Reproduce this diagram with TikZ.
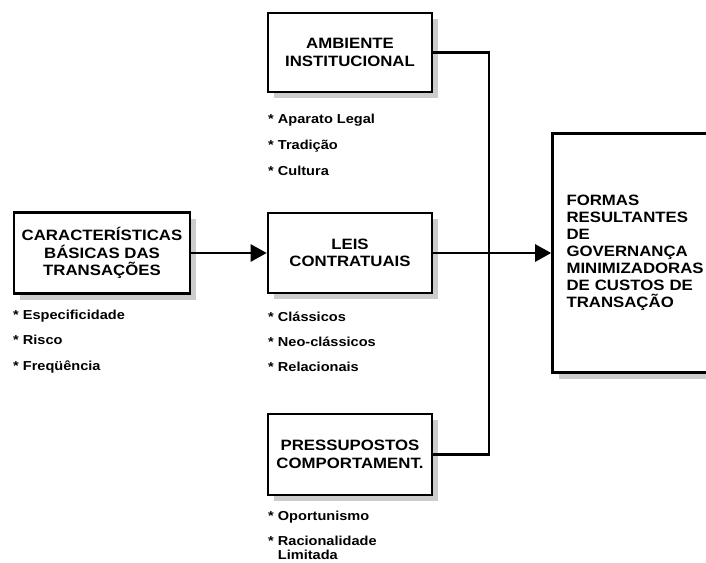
\documentclass[tikz,border=0pt]{standalone}
\usepackage{fontspec}
\newfontfamily\lblfont[FakeStretch=1.12]{Liberation Sans}
\usetikzlibrary{arrows.meta,positioning,shadows}

\begin{document}
\begin{tikzpicture}[x=1pt, y=-1pt,
      blockbox/.style={draw, line width=2.6pt, fill=white, align=center, inner sep=2pt,
        drop shadow={shadow xshift=6pt, shadow yshift=-6pt, fill=black!20, opacity=1},
        font=\lblfont\bfseries\fontsize{15}{17.5}\selectfont},
      itemtxt/.style={anchor=base west, inner sep=0pt, font=\lblfont\bfseries\fontsize{13}{16}\selectfont},
      link/.style={line width=2.6pt},
      arr/.style={link, -{Triangle[length=16pt, width=17pt]}}
    ]
      \useasboundingbox (0,0) rectangle (706,562);

      % Caracteristicas basicas
      \node[blockbox, minimum width=176pt, minimum height=81pt] (cbt) at (102,253)
        {CARACTERÍSTICAS\\BÁSICAS DAS\\TRANSAÇÕES};
      \node[itemtxt] (cbt-i1) at (13,319) {* Especificidade};
      \node[itemtxt] (cbt-i2) at (13,344) {* Risco};
      \node[itemtxt] (cbt-i3) at (13,370) {* Freqüência};

      % Ambiente institucional
      \node[blockbox, minimum width=164pt, minimum height=79pt] (amb) at (350,52.5)
        {AMBIENTE\\INSTITUCIONAL};
      \node[itemtxt] (amb-i1) at (268,123) {* Aparato Legal};
      \node[itemtxt] (amb-i2) at (268,149) {* Tradição};
      \node[itemtxt] (amb-i3) at (268,175) {* Cultura};

      % Leis contratuais
      \node[blockbox, minimum width=164pt, minimum height=80pt] (leis) at (350,253)
        {LEIS\\CONTRATUAIS};
      \node[itemtxt] (leis-i1) at (268,321) {* Clássicos};
      \node[itemtxt] (leis-i2) at (268,346) {* Neo-clássicos};
      \node[itemtxt] (leis-i3) at (268,371) {* Relacionais};

      % Pressupostos comportamentais
      \node[blockbox, minimum width=164pt, minimum height=81pt] (press) at (350,454.5)
        {PRESSUPOSTOS\\COMPORTAMENT.};
      \node[itemtxt] (press-i1) at (268,520) {* Oportunismo};
      \node[itemtxt] (press-i2) at (268,545) {* Racionalidade};
      \node[itemtxt] (press-i3) at (268,559.5) {\phantom{* }Limitada};

      % Formas resultantes
      \node[blockbox, minimum height=239pt, text width=132pt, align=left, inner xsep=14pt,
        font=\lblfont\bfseries\fontsize{15}{17}\selectfont] (formas) at (632.5,253)
        {FORMAS\\RESULTANTES\\DE\\GOVERNANÇA\\MINIMIZADORAS\\DE CUSTOS DE\\TRANSAÇÃO};

      % connectors
      \coordinate (bus) at (489,253);
      \draw[arr] (cbt.east) -- (leis.west);
      \draw[link] (amb.east) -| (bus) |- (press.east);
      \draw[arr] (leis.east) -- (formas.west);
    \end{tikzpicture}
\end{document}
